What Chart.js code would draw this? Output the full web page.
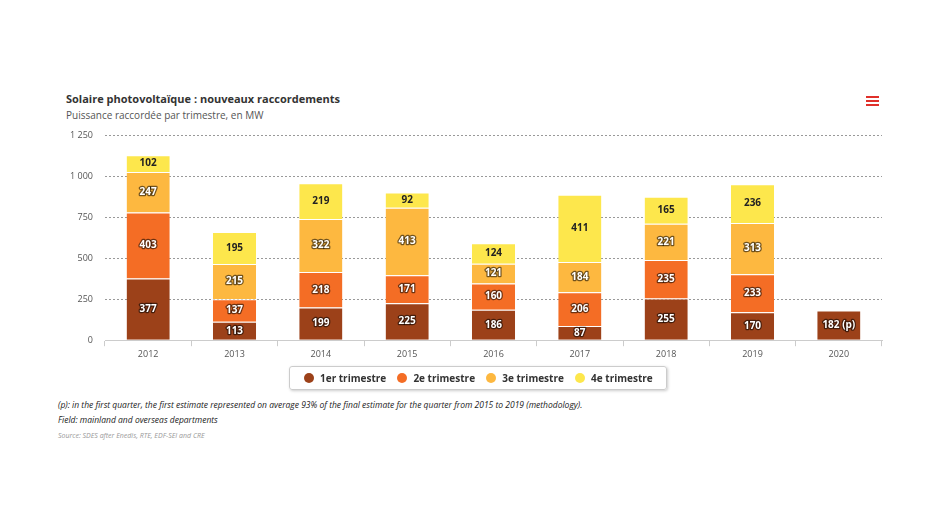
<!DOCTYPE html>
<html><head><meta charset="utf-8">
<script src="https://cdn.jsdelivr.net/npm/chart.js@4"></script>
<style>
body{margin:0;background:#fff;font-family:"Open Sans",sans-serif;width:944px;height:531px;position:relative;overflow:hidden}
#title{position:absolute;left:66px;top:91px;font-size:11px;font-weight:bold;color:#333}
#sub{position:absolute;left:66px;top:108px;font-size:10px;color:#555}
#menu{position:absolute;left:866px;top:96px;width:13px}
#menu div{height:2px;background:#e0302a;margin-bottom:2px}
#wrap{position:absolute;left:60px;top:118px;width:830px;height:245px}
#legend{position:absolute;left:289px;top:366px;height:22px;border:1px solid #ccc;border-radius:3px;box-shadow:1px 1px 3px #ccc;display:flex;align-items:center;padding:0 8px;font-size:10px;font-weight:bold;color:#333}
#legend span{display:inline-block;width:10px;height:10px;border-radius:50%;margin:0 6px 0 6px}
.note{position:absolute;left:58px;font-size:8.5px;font-style:italic;color:#222}
</style></head><body>
<div id="title">Solaire photovoltaïque : nouveaux raccordements</div>
<div id="sub">Puissance raccordée par trimestre, en MW</div>
<div id="menu"><div></div><div></div><div></div></div>
<div id="wrap"><canvas id="c"></canvas></div>
<div id="legend"></div>
<div class="note" style="top:399px">(p): in the first quarter, the first estimate represented on average 93% of the final estimate for the quarter from 2015 to 2019 (methodology).</div>
<div class="note" style="top:414px">Field: mainland and overseas departments</div>
<div class="note" style="top:431px;font-size:7px;color:#999">Source: SDES after Enedis, RTE, EDF-SEI and CRE</div>
<script>
const years = ["2012","2013","2014","2015","2016","2017","2018","2019","2020"];
const seriesNames = ["1er trimestre","2e trimestre","3e trimestre","4e trimestre"];
const colors = ["#9c4119","#f46d25","#fdb840","#fde74c"];
const q1 = [377,113,199,225,186,87,255,170,182];
const q2 = [403,137,218,171,160,206,235,233,null];
const q3 = [247,215,322,413,121,184,221,313,null];
const q4 = [102,195,219,92,124,411,165,236,null];
const yTicks = [0,250,500,750,1000,1250];

const all = [q1,q2,q3,q4];
document.getElementById("legend").innerHTML = seriesNames.map((n,i) =>
  `<span style="background:${colors[i]}"></span>${n}&nbsp;&nbsp;`).join("");

const labelPlugin = {
  id: "barLabels",
  afterDatasetsDraw(chart) {
    const c = chart.ctx;
    c.save();
    c.font = "bold 10px 'Open Sans'";
    c.textAlign = "center"; c.textBaseline = "middle";
    chart.data.datasets.forEach((ds, di) => {
      chart.getDatasetMeta(di).data.forEach((bar, i) => {
        const v = ds.data[i];
        if (v == null) return;
        const t = (di === 0 && years[i] === "2020") ? v + " (p)" : String(v);
        const y = (bar.y + bar.base) / 2;
        if (di === 3) { c.fillStyle = "#222"; c.fillText(t, bar.x, y); }
        else {
          c.lineWidth = 2.5; c.strokeStyle = "rgba(0,0,0,0.55)"; c.lineJoin = "round";
          c.strokeText(t, bar.x, y); c.fillStyle = "#fff"; c.fillText(t, bar.x, y);
        }
      });
    });
    c.restore();
  }
};

new Chart(document.getElementById("c"), {
  type: "bar",
  data: { labels: years, datasets: all.map((d,i) => ({ label: seriesNames[i], data: d, backgroundColor: colors[i], borderColor: "#fff", borderWidth: {top:1}, categoryPercentage: 0.5, barPercentage: 1 })) },
  options: {
    responsive: true, maintainAspectRatio: false, animation: false,
    layout: { padding: { top: 4, right: 8 } },
    plugins: { legend: { display: false }, tooltip: { enabled: false } },
    scales: {
      x: { stacked: true, grid: { display: true, offset: true, drawOnChartArea: false, tickLength: 6, color: "#ccc" }, border: { color: "#ccc" },
           ticks: { color: "#555", font: { size: 9, family: "Open Sans" } } },
      y: { stacked: true, min: 0, max: 1250, afterFit: s => { s.width = 45; },
           afterBuildTicks: s => { s.ticks = yTicks.map(v => ({ value: v })); },
           grid: { color: "#999", tickLength: 0 }, border: { display: false, dash: [2,2] },
           ticks: { color: "#555", padding: 12, font: { size: 9, family: "Open Sans" },
                    callback: v => v >= 1000 ? "1 " + String(v).slice(1) : v } }
    }
  },
  plugins: [labelPlugin]
});
</script>
</body></html>
